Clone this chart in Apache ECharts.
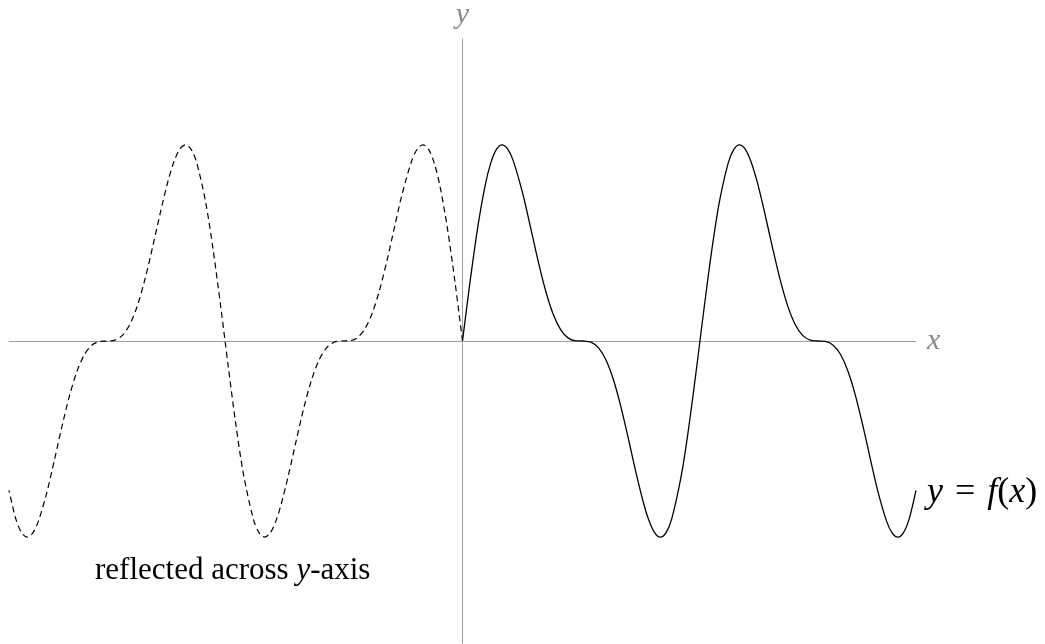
<!DOCTYPE html>
<html><head><meta charset="utf-8">
<script src="https://cdn.jsdelivr.net/npm/echarts@6/dist/echarts.min.js"></script>
<style>html,body{margin:0;padding:0;background:#fff}#c{width:1045px;height:644px}</style>
</head><body><div id="c"></div>
<script>
// sample positions along x (right half); the left half is the reflection
const xValues = [0,0.2,0.4,0.6,0.747,0.897,1.047,1.197,1.347,1.6,1.8,2,2.2,2.4,2.6,2.8,3,3.2,3.4,3.6,3.8,4,4.2,4.4,4.6,4.8,4.936,5.086,5.236,5.386,5.536,5.8,6,6.2,6.283,6.4,6.6,6.8,7.03,7.18,7.33,7.48,7.63,7.8,8,8.2,8.4,8.6,8.8,9,9.2,9.4,9.6,9.8,10,10.2,10.4,10.6,10.8,11,11.219,11.369,11.519,11.669,11.819,12];
// y = f(x)
const fValues = [0,0.393,0.748,1.031,1.178,1.269,1.299,1.271,1.191,0.970,0.753,0.531,0.333,0.177,0.074,0.019,0.001,0.000,-0.008,-0.046,-0.128,-0.262,-0.444,-0.659,-0.882,-1.083,-1.191,-1.271,-1.299,-1.269,-1.178,-0.876,-0.548,-0.166,0,0.232,0.608,0.924,1.178,1.269,1.299,1.271,1.191,1.052,0.845,0.622,0.411,0.236,0.111,0.037,0.006,0.000,-0.003,-0.026,-0.088,-0.200,-0.363,-0.567,-0.790,-1.004,-1.191,-1.271,-1.299,-1.269,-1.178,-0.989];
const xRange = [-12, 12];
const yRange = [-2, 2];
const axisNames = ['x', 'y'];
const curveLabelParts = ['y', '=', 'f', '(', 'x', ')'];
const reflectedLabel = ['reflected across ', 'y', '-axis'];

const solidData = xValues.map((x, i) => [x, fValues[i]]);
const reflectedData = xValues.map((x, i) => [-x, fValues[i]]);

const serif = "'Liberation Serif', 'DejaVu Serif', serif";
const chart = echarts.init(document.getElementById('c'), null, {renderer: 'canvas'});
const axisCommon = {
  type: 'value',
  axisLine: {show: true, onZero: true, lineStyle: {color: '#a0a0a0', width: 1}},
  axisTick: {show: false},
  axisLabel: {show: false},
  splitLine: {show: false},
  nameTextStyle: {fontFamily: serif, fontStyle: 'italic', fontSize: 30, color: '#888'}
};
chart.setOption({
  animation: false,
  backgroundColor: '#fff',
  grid: {left: 9, right: 129, top: 39, bottom: 1},
  xAxis: Object.assign({}, axisCommon, {min: xRange[0], max: xRange[1], name: axisNames[0], nameLocation: 'end', nameGap: 11}),
  yAxis: Object.assign({}, axisCommon, {min: yRange[0], max: yRange[1], name: axisNames[1], nameLocation: 'end', nameGap: 9}),
  series: [
    {type: 'line', data: solidData, smooth: 0.3, showSymbol: false, silent: true,
     lineStyle: {color: '#000', width: 1.3}},
    {type: 'line', data: reflectedData, smooth: 0.3, showSymbol: false, silent: true,
     lineStyle: {color: '#000', width: 1.2, type: [6, 4]}}
  ],
  graphic: [
    {type: 'text', left: 927, top: 475, silent: true,
     style: {
       text: '{i|' + curveLabelParts[0] + '}{r|' + curveLabelParts[1] + '}{i|' + curveLabelParts[2] + '}{p|' + curveLabelParts[3] + '}{i|' + curveLabelParts[4] + '}{p|' + curveLabelParts[5] + '}',
       rich: {
         i: {fontFamily: serif, fontStyle: 'italic', fontSize: 36, fill: '#000'},
         r: {fontFamily: serif, fontSize: 36, fill: '#000', padding: [0, 12, 0, 12]},
         p: {fontFamily: serif, fontSize: 36, fill: '#000'}
       }
     }},
    {type: 'text', left: 95, top: 555, silent: true,
     style: {
       text: '{r|' + reflectedLabel[0] + '}{i|' + reflectedLabel[1] + '}{r|' + reflectedLabel[2] + '}',
       rich: {
         r: {fontFamily: serif, fontSize: 31, fill: '#000'},
         i: {fontFamily: serif, fontStyle: 'italic', fontSize: 31, fill: '#000'}
       }
     }}
  ]
});
</script>
</body></html>
